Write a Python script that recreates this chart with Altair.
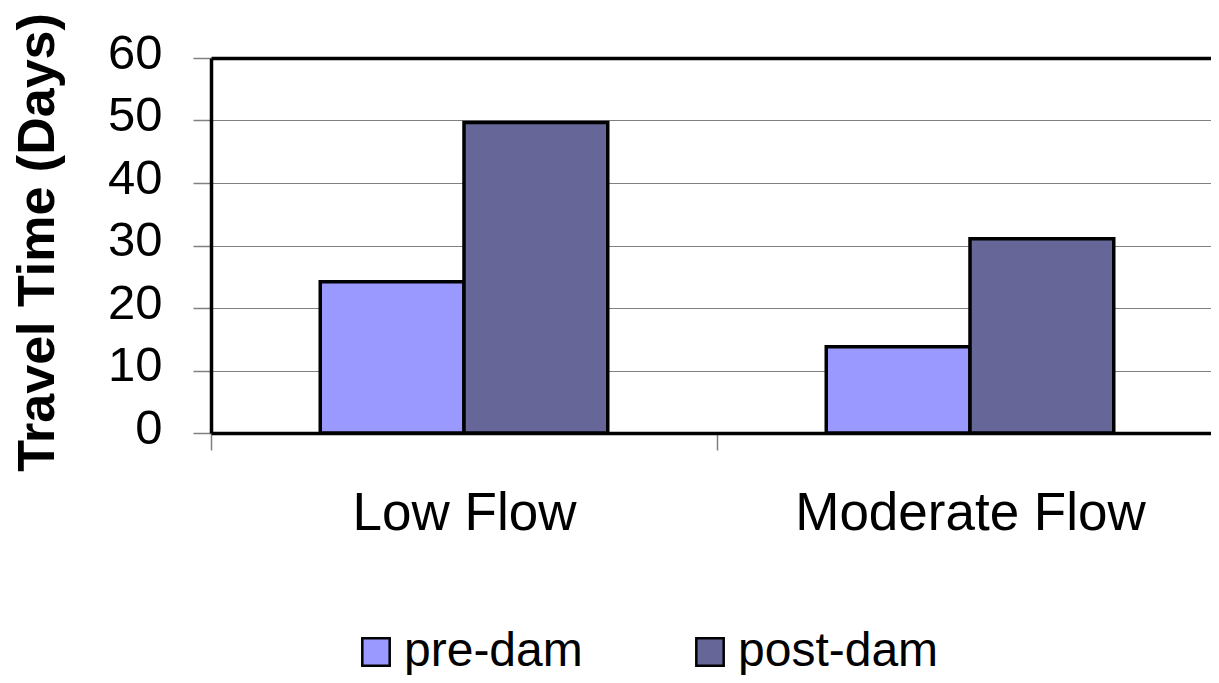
import altair as alt
import pandas as pd

categories = ["Low Flow", "Moderate Flow"]
series = ["pre-dam", "post-dam"]
pre_dam = [24.2, 13.8]
post_dam = [49.7, 31.1]
colors = ["#9999FF", "#666699"]
y_ticks = [0, 10, 20, 30, 40, 50, 60]

rows = []
for i, c in enumerate(categories):
    rows.append({"flow": c, "period": series[0], "days": pre_dam[i]})
    rows.append({"flow": c, "period": series[1], "days": post_dam[i]})
df = pd.DataFrame(rows)

FONT = "Liberation Sans"

chart = alt.Chart(df).mark_bar(
    stroke="black", strokeWidth=3.5, strokeJoin="miter"
).encode(
    x=alt.X(
        "flow:N", sort=categories,
        scale=alt.Scale(range=[0, 1012], paddingInner=0, paddingOuter=0),
        axis=alt.Axis(
            title=None, labelAngle=0, labelFont=FONT, labelFontSize=53,
            labelColor="black", labelPadding=37, labelBaseline="top",
            labelLimit=0,
            tickBand="extent", tickSize=17, tickColor="#808080", tickWidth=1.5,
            domainColor="black", domainWidth=3.5, grid=False,
        ),
    ),
    xOffset=alt.XOffset(
        "period:N", sort=series,
        scale=alt.Scale(paddingInner=0, paddingOuter=0.76),
    ),
    y=alt.Y(
        "days:Q",
        scale=alt.Scale(domain=[0, 60], nice=False),
        axis=alt.Axis(
            values=y_ticks, title="Travel Time (Days)",
            titleFont=FONT, titleFontSize=52, titleFontWeight="bold",
            titleColor="black", titleAngle=270, titleAlign="center",
            titleBaseline="alphabetic", titleX=-158, titleY=184,
            labelFont=FONT, labelFontSize=49, labelColor="black",
            labelPadding=31, labelOffset=-5, labelLimit=0,
            tickSize=18, tickColor="#808080", tickWidth=1.5,
            domainColor="black", domainWidth=3.5,
            grid=True,
            gridColor=alt.condition("datum.value == 60", alt.value("black"), alt.value("#808080")),
            gridWidth=alt.condition("datum.value == 60", alt.value(3.5), alt.value(1.2)),
        ),
    ),
    color=alt.Color(
        "period:N", sort=series,
        scale=alt.Scale(domain=series, range=colors),
        legend=alt.Legend(
            title=None, orient="none", legendX=141, legendY=570,
            direction="horizontal", columns=2, padding=0,
            symbolType="square", symbolSize=750, symbolStrokeColor="black",
            symbolStrokeWidth=2.5, symbolOpacity=1,
            labelFont=FONT, labelFontSize=48, labelColor="black",
            labelOffset=4, columnPadding=103, labelLimit=0,
        ),
    ),
).properties(
    width=1000, height=375,
    padding={"left": 203, "top": 50, "right": 0, "bottom": 242},
    autosize="none",
).configure_view(strokeWidth=0)

chart.save("out.html", embed_options={"renderer": "svg", "actions": False})
